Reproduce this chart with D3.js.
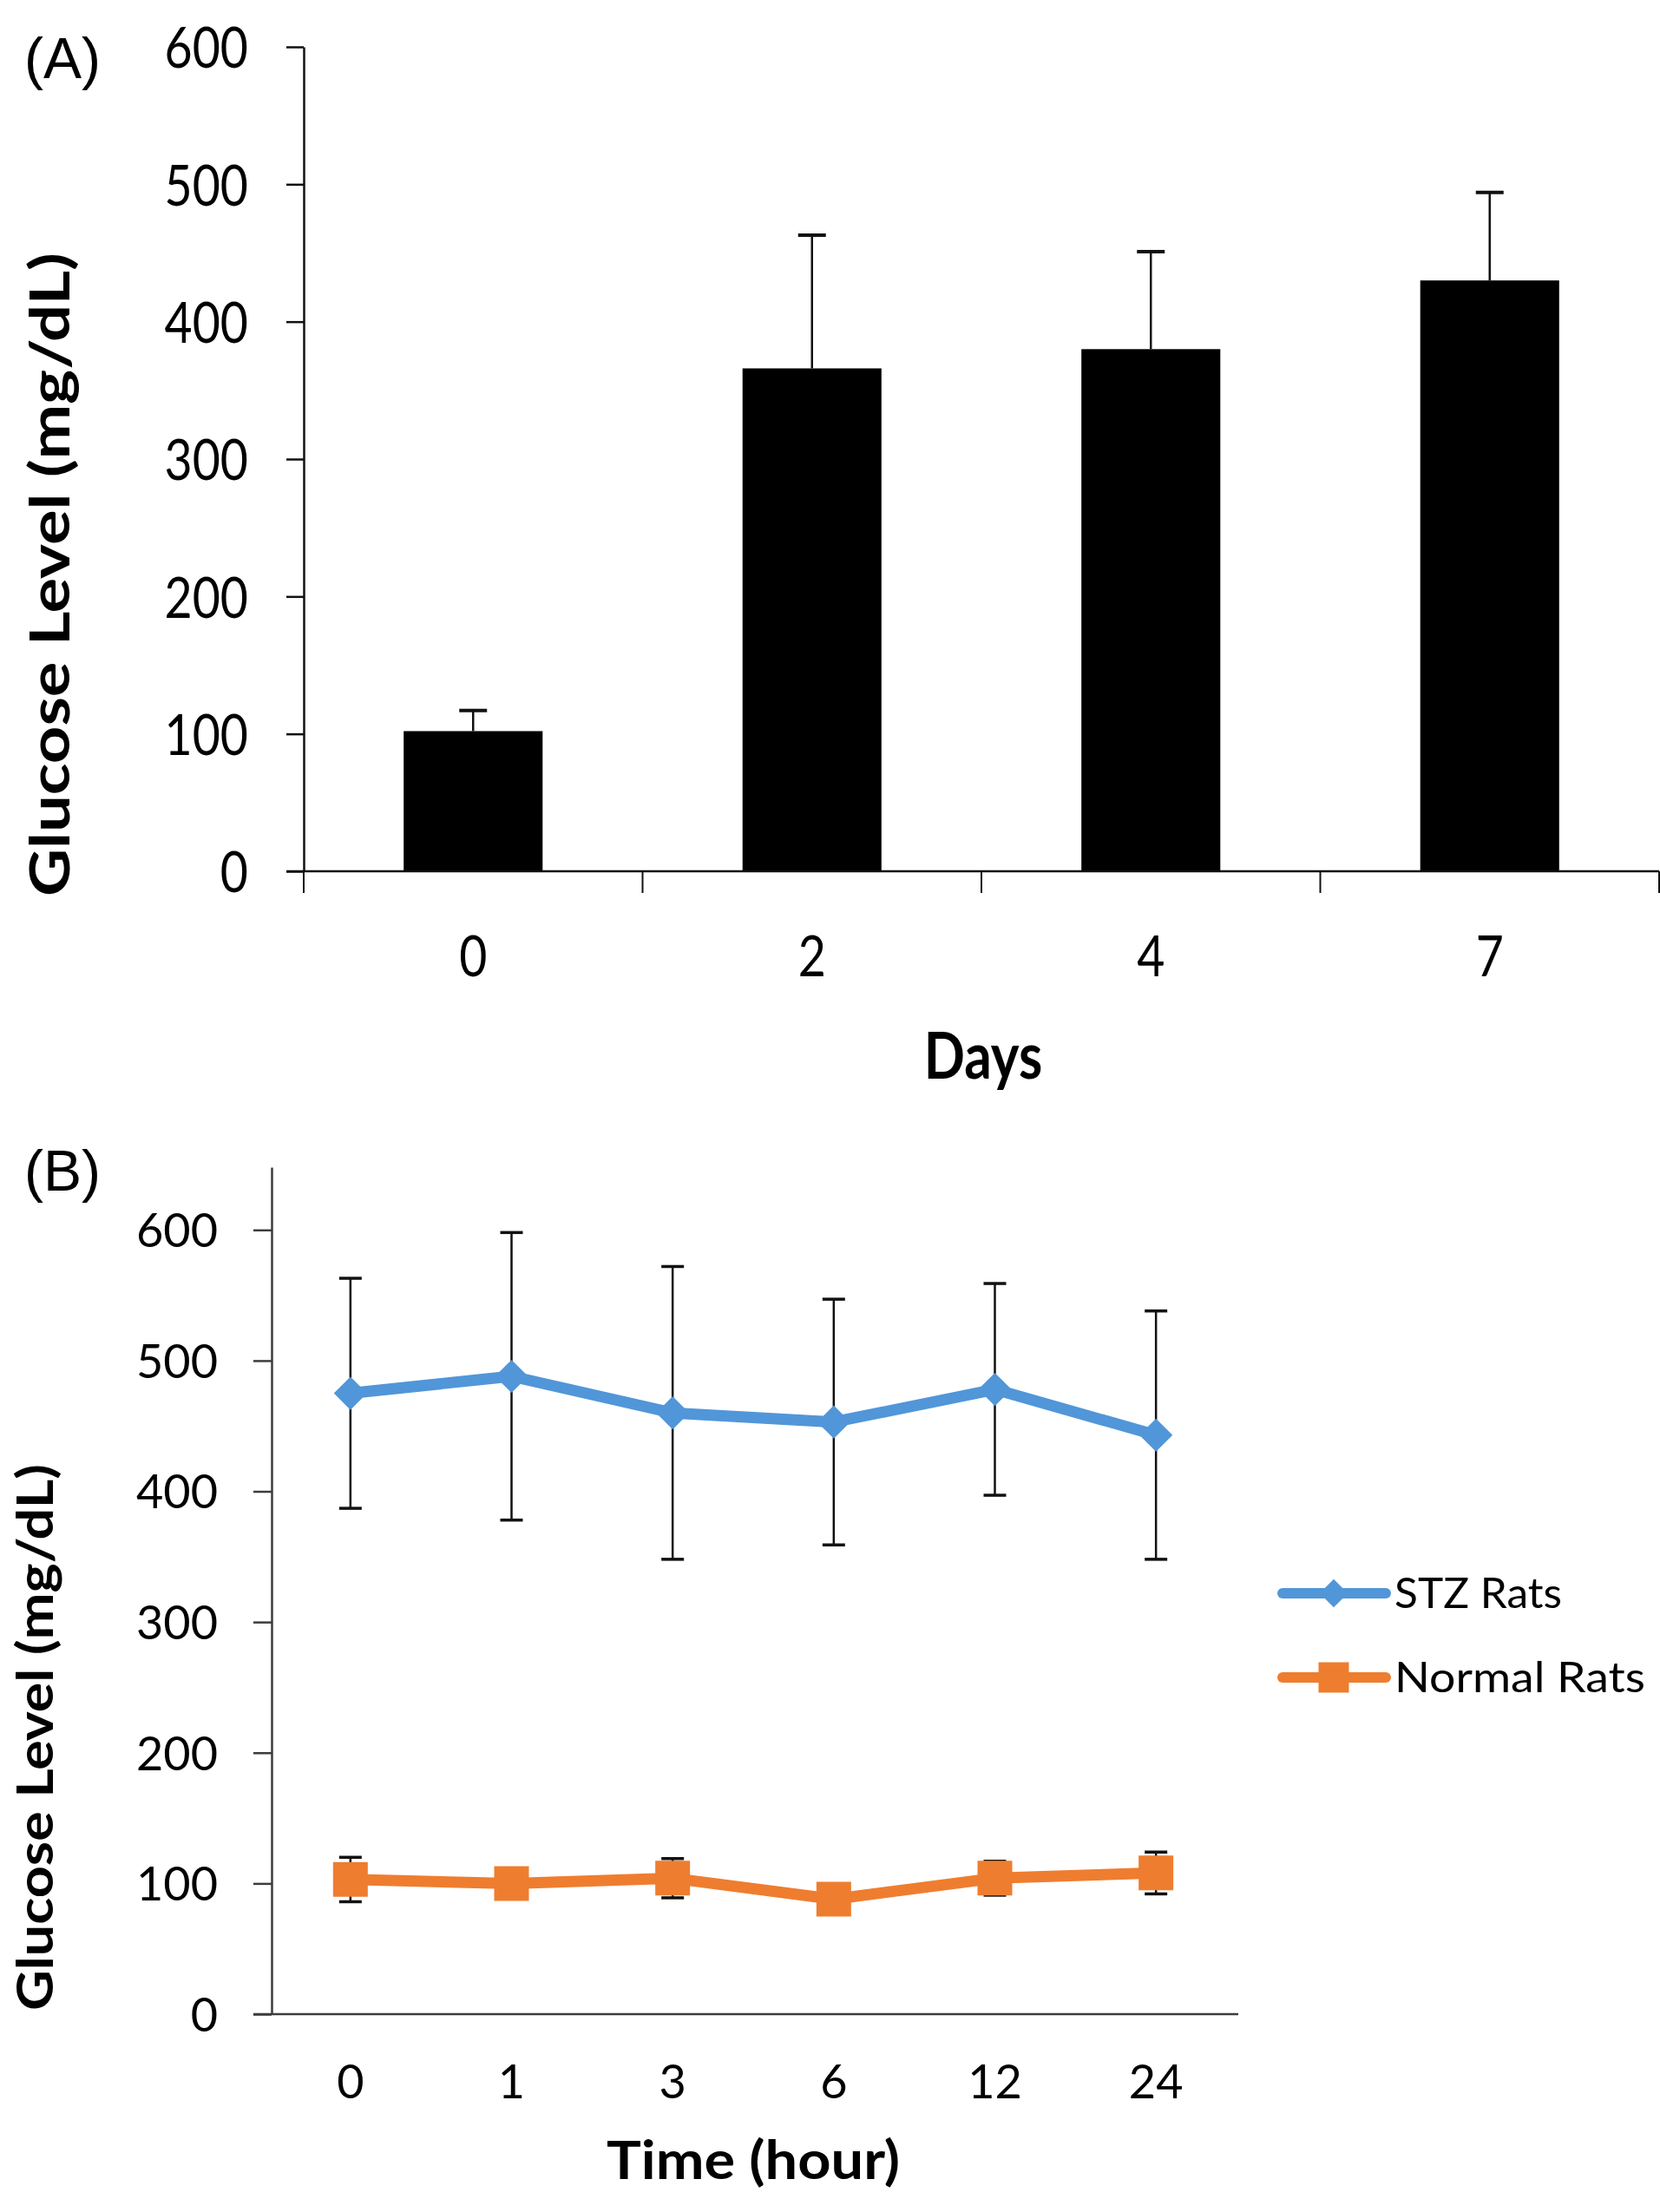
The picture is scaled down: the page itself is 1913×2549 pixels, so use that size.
<!DOCTYPE html>
<html>
<head>
<meta charset="utf-8">
<script src="https://cdn.jsdelivr.net/npm/d3@7"></script>
<style>
  html, body { margin: 0; padding: 0; background: #fff; }
  svg { display: block; }
</style>
</head>
<body>
<script>
// ---------- Data ----------
const daysA = ["0", "2", "4", "7"];
const glucoseA = [102, 366, 380, 430];
const errA = [15, 97, 71, 64];

const hoursB = ["0", "1", "3", "6", "12", "24"];
const stzMean = [475, 488, 460, 453, 478, 443];
const stzSD = [88, 110, 112, 94, 81, 95];
const normalMean = [103, 100, 104, 88, 104, 108];
const normalSD = [17, 8, 15, 8, 13, 16];

const yTicks = [0, 100, 200, 300, 400, 500, 600];
const seriesNames = ["STZ Rats", "Normal Rats"];
const seriesColors = ["#5196D8", "#EF7D2F"];

// ---------- SVG ----------
const W = 1913, H = 2549;
const svg = d3.select("body").append("svg").attr("width", W).attr("height", H);
const FONT = "Lato, 'Open Sans', sans-serif";

// =============== Panel A ===============
const gA = svg.append("g");
const yA = d3.scaleLinear().domain([0, 600]).range([1004, 54]);
const xA = d3.scaleBand().domain(daysA).range([350, 1912]).paddingInner(0.59).paddingOuter(0.295);
const squishA = 0.84;

// bars
gA.selectAll("rect.bar").data(glucoseA).join("rect")
  .attr("class", "bar")
  .attr("x", (d, i) => xA(daysA[i]))
  .attr("y", d => yA(d))
  .attr("width", xA.bandwidth())
  .attr("height", d => yA(0) - yA(d))
  .attr("fill", "#000");

// error bars (upper only)
const ebA = gA.selectAll("g.eb").data(glucoseA).join("g").attr("class", "eb");
ebA.append("line")
  .attr("x1", (d, i) => xA(daysA[i]) + xA.bandwidth() / 2)
  .attr("x2", (d, i) => xA(daysA[i]) + xA.bandwidth() / 2)
  .attr("y1", d => yA(d))
  .attr("y2", (d, i) => yA(d + errA[i]))
  .attr("stroke", "#111").attr("stroke-width", 2.5);
ebA.append("line")
  .attr("x1", (d, i) => xA(daysA[i]) + xA.bandwidth() / 2 - 16)
  .attr("x2", (d, i) => xA(daysA[i]) + xA.bandwidth() / 2 + 16)
  .attr("y1", (d, i) => yA(d + errA[i]))
  .attr("y2", (d, i) => yA(d + errA[i]))
  .attr("stroke", "#111").attr("stroke-width", 4);

// y axis A
const yAxisA = gA.append("g").attr("transform", "translate(350,0)")
  .call(d3.axisLeft(yA).tickValues(yTicks).tickSize(20).tickSizeOuter(0));
yAxisA.select(".domain").attr("stroke", "#111").attr("stroke-width", 2.5);
yAxisA.selectAll(".tick line").attr("stroke", "#111").attr("stroke-width", 2.5);
yAxisA.selectAll(".tick text")
  .attr("x", 0).attr("dy", "0.36em")
  .attr("transform", `translate(-64,0) scale(${squishA},1)`)
  .attr("text-anchor", "end")
  .style("font-family", FONT).style("font-size", "66px").attr("fill", "#000");

// x axis A
gA.append("line")
  .attr("x1", 330).attr("x2", xA.range()[1])
  .attr("y1", yA(0)).attr("y2", yA(0))
  .attr("stroke", "#111").attr("stroke-width", 2.5);
gA.selectAll("line.xtick").data(d3.range(daysA.length + 1)).join("line")
  .attr("class", "xtick")
  .attr("x1", i => xA.range()[0] + i * xA.step())
  .attr("x2", i => xA.range()[0] + i * xA.step())
  .attr("y1", yA(0)).attr("y2", yA(0) + 25)
  .attr("stroke", "#111").attr("stroke-width", 2);
const xAxisA = gA.append("g").attr("transform", `translate(0,${yA(0)})`)
  .call(d3.axisBottom(xA).tickSize(0).tickSizeOuter(0));
xAxisA.select(".domain").remove();
xAxisA.selectAll(".tick text")
  .attr("y", 121).attr("dy", 0)
  .attr("transform", `scale(${squishA},1)`)
  .style("font-family", FONT).style("font-size", "66px").attr("fill", "#000");

// titles A
gA.append("text")
  .attr("transform", `translate(1133,1243) scale(${squishA},1)`)
  .attr("text-anchor", "middle")
  .style("font-family", FONT).style("font-weight", "bold").style("font-size", "74px")
  .text("Days");
gA.append("text")
  .attr("transform", "translate(80,662) rotate(-90)")
  .attr("text-anchor", "middle")
  .attr("textLength", 742).attr("lengthAdjust", "spacingAndGlyphs")
  .style("font-family", FONT).style("font-weight", "bold").style("font-size", "64px")
  .text("Glucose Level (mg/dL)");
gA.append("text")
  .attr("x", 28).attr("y", 90)
  .style("font-family", "'Liberation Sans', Arial, sans-serif").style("font-size", "66px")
  .text("(A)");

// =============== Panel B ===============
const gB = svg.append("g");
const yB = d3.scaleLinear().domain([0, 648]).range([2321, 1345]);
const xB = d3.scaleBand().domain(hoursB).range([311, 1425]);
const cx = d => xB(d) + xB.bandwidth() / 2;
const AX = "#3c3c3c";

// y axis B
const yAxisB = gB.append("g").attr("transform", "translate(313,0)")
  .call(d3.axisLeft(yB).tickValues(yTicks).tickSize(21).tickSizeOuter(0));
yAxisB.select(".domain").attr("stroke", AX).attr("stroke-width", 2.5);
yAxisB.selectAll(".tick line").attr("stroke", AX).attr("stroke-width", 2.5);
yAxisB.selectAll(".tick text")
  .attr("x", -62).attr("dy", "0.36em").attr("text-anchor", "end")
  .style("font-family", FONT).style("font-size", "54px").attr("fill", "#000");

// x axis B
gB.append("line")
  .attr("x1", 292).attr("x2", 1427)
  .attr("y1", yB(0)).attr("y2", yB(0))
  .attr("stroke", AX).attr("stroke-width", 2.5);
const xAxisB = gB.append("g").attr("transform", `translate(0,${yB(0)})`)
  .call(d3.axisBottom(xB).tickSize(0).tickSizeOuter(0));
xAxisB.select(".domain").remove();
xAxisB.selectAll(".tick text")
  .attr("y", 97).attr("dy", 0)
  .style("font-family", FONT).style("font-size", "54px").attr("fill", "#000");

// error bars B
function drawErr(means, sds) {
  const g = gB.append("g");
  const eb = g.selectAll("g").data(means).join("g");
  eb.append("line")
    .attr("x1", (d, i) => cx(hoursB[i])).attr("x2", (d, i) => cx(hoursB[i]))
    .attr("y1", (d, i) => yB(d - sds[i])).attr("y2", (d, i) => yB(d + sds[i]))
    .attr("stroke", "#111").attr("stroke-width", 2.5);
  [1, -1].forEach(s => {
    eb.append("line")
      .attr("x1", (d, i) => cx(hoursB[i]) - 13).attr("x2", (d, i) => cx(hoursB[i]) + 13)
      .attr("y1", (d, i) => yB(d + s * sds[i])).attr("y2", (d, i) => yB(d + s * sds[i]))
      .attr("stroke", "#111").attr("stroke-width", 3.5);
  });
}
drawErr(stzMean, stzSD);
drawErr(normalMean, normalSD);

// lines
const line = d3.line().x((d, i) => cx(hoursB[i])).y(d => yB(d));
[stzMean, normalMean].forEach((m, k) => {
  gB.append("path").datum(m)
    .attr("d", line)
    .attr("fill", "none")
    .attr("stroke", seriesColors[k])
    .attr("stroke-width", 13)
    .attr("stroke-linejoin", "round")
    .attr("stroke-linecap", "round");
});

// markers
const diamond = d3.symbol().type(d3.symbolSquare).size(27 * 27)();
const square = d3.symbol().type(d3.symbolSquare).size(40 * 40)();
gB.selectAll("path.stz").data(stzMean).join("path")
  .attr("class", "stz")
  .attr("d", diamond)
  .attr("transform", (d, i) => `translate(${cx(hoursB[i])},${yB(d)}) rotate(45)`)
  .attr("fill", seriesColors[0]);
gB.selectAll("path.nor").data(normalMean).join("path")
  .attr("class", "nor")
  .attr("d", square)
  .attr("transform", (d, i) => `translate(${cx(hoursB[i])},${yB(d)})`)
  .attr("fill", seriesColors[1]);

// titles B
gB.append("text")
  .attr("x", 868).attr("y", 2511)
  .attr("text-anchor", "middle")
  .attr("textLength", 338).attr("lengthAdjust", "spacingAndGlyphs")
  .style("font-family", FONT).style("font-weight", "bold").style("font-size", "62px")
  .text("Time (hour)");
gB.append("text")
  .attr("transform", "translate(61,2002) rotate(-90)")
  .attr("text-anchor", "middle")
  .attr("textLength", 630).attr("lengthAdjust", "spacingAndGlyphs")
  .style("font-family", FONT).style("font-weight", "bold").style("font-size", "58px")
  .text("Glucose Level (mg/dL)");
gB.append("text")
  .attr("x", 28).attr("y", 1372)
  .style("font-family", "'Liberation Sans', Arial, sans-serif").style("font-size", "66px")
  .text("(B)");

// legend
const legY = [1836, 1933];
const legLen = [193, 289];
const leg = gB.selectAll("g.leg").data(seriesNames).join("g").attr("class", "leg")
  .attr("transform", (d, i) => `translate(0,${legY[i]})`);
leg.append("line")
  .attr("x1", 1478).attr("x2", 1597).attr("y1", 0).attr("y2", 0)
  .attr("stroke", (d, i) => seriesColors[i]).attr("stroke-width", 12)
  .attr("stroke-linecap", "round");
leg.append("path")
  .attr("d", (d, i) => i === 0
    ? d3.symbol().type(d3.symbolSquare).size(23 * 23)()
    : d3.symbol().type(d3.symbolSquare).size(35 * 35)())
  .attr("transform", (d, i) => i === 0 ? "translate(1537,0) rotate(45)" : "translate(1537,0)")
  .attr("fill", (d, i) => seriesColors[i]);
leg.append("text")
  .attr("x", 1607).attr("y", 17)
  .attr("textLength", (d, i) => legLen[i]).attr("lengthAdjust", "spacingAndGlyphs")
  .style("font-family", FONT).style("font-size", "48px").attr("fill", "#000")
  .text(d => d);
</script>
</body>
</html>
